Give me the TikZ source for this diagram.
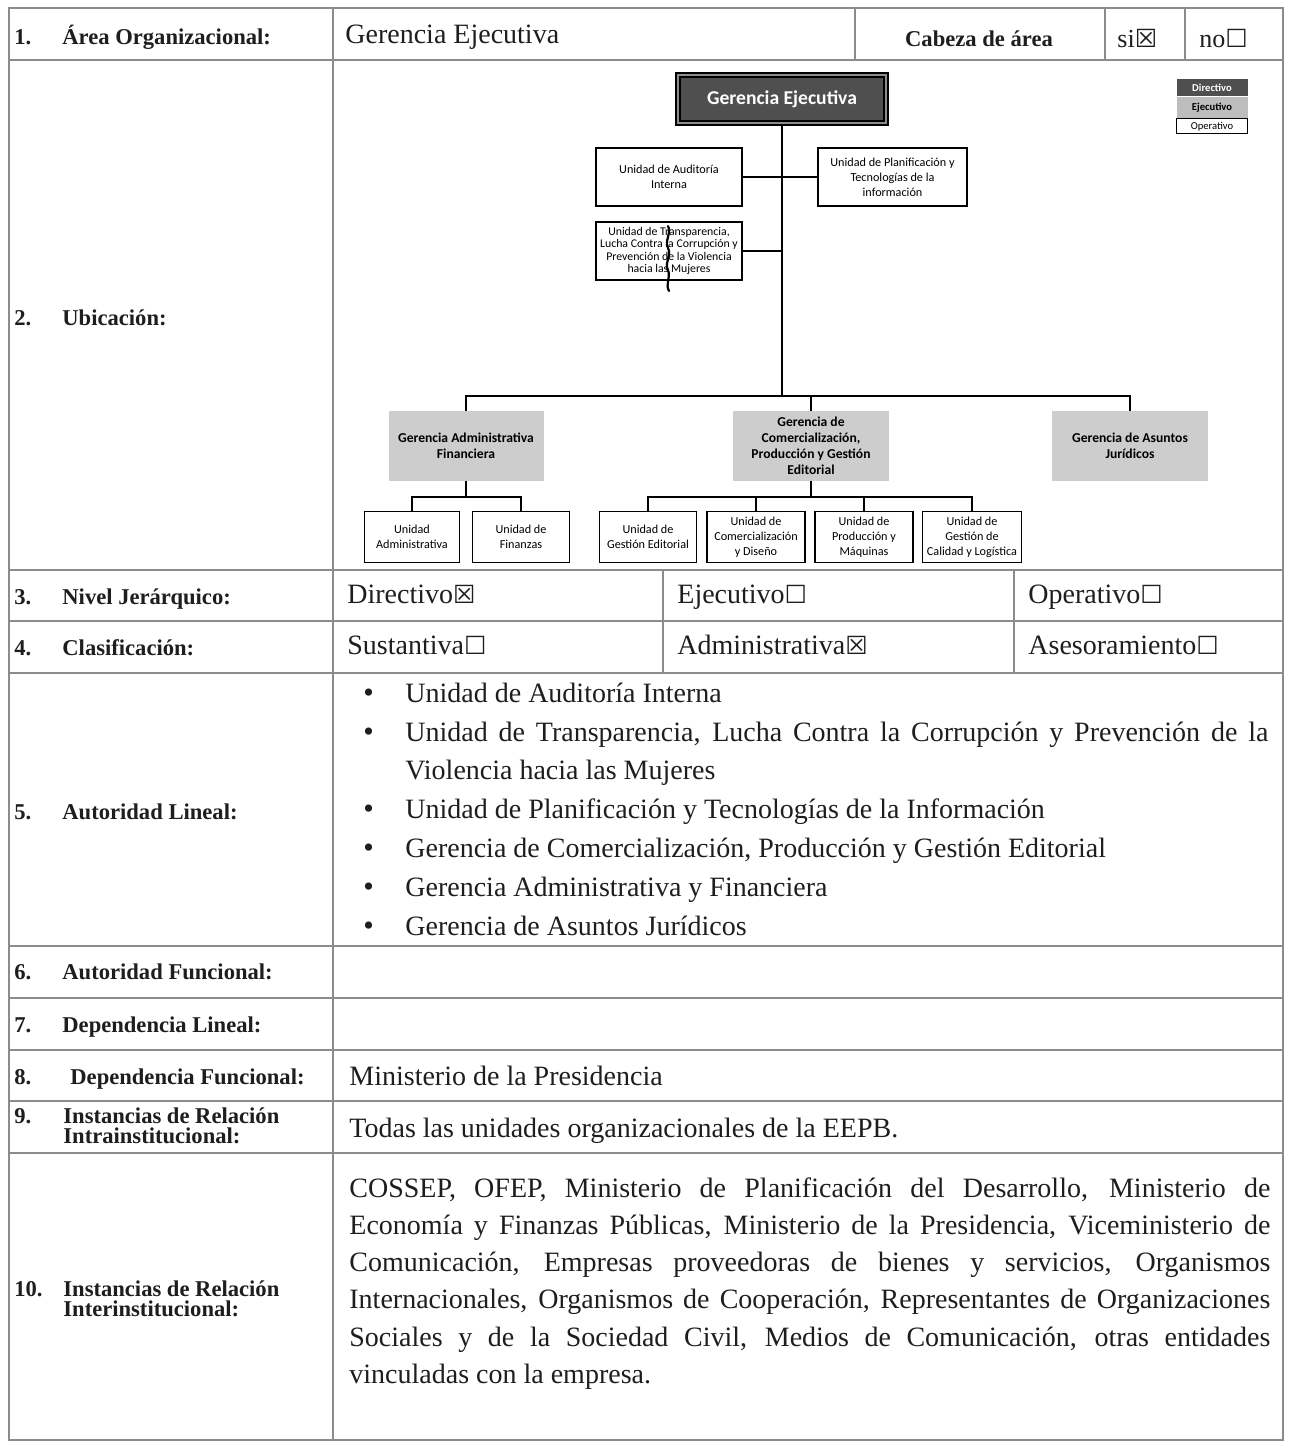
\documentclass[tikz,border=0pt]{standalone}
\usepackage{fontspec}
\setmainfont{Liberation Serif}
\newfontfamily\orgfont{Carlito}
\newfontfamily\glyphfont{DejaVu Sans}
\newcommand\boxyes{{\glyphfont\fontsize{12.5}{12.5}\selectfont\char"2612}}
\newcommand\boxno{{\glyphfont\fontsize{12.5}{12.5}\selectfont\char"2610}}
\hyphenpenalty=10000
\exhyphenpenalty=10000
\definecolor{inkc}{HTML}{1E1E1E}
\definecolor{rulec}{HTML}{8C8C8C}
\definecolor{topgray}{HTML}{4F4F4F}
\definecolor{mgrgray}{HTML}{CDCDCD}
\definecolor{leggray}{HTML}{BDBDBD}
\begin{document}
\begin{tikzpicture}[x=0.5pt,y=-0.5pt,
  gridline/.style={draw=rulec, line width=0.6pt},
  num/.style={anchor=base west, inner sep=0pt, text=inkc, font=\fontsize{11.3}{10}\selectfont\bfseries},
  lbl/.style={num, align=left},
  val/.style={anchor=base west, inner sep=0pt, text=inkc, font=\fontsize{14}{18.65}\selectfont},
  bullet/.style={anchor=base west, inner sep=0pt, text=inkc, font=\fontsize{15}{18}\selectfont},
  item/.style={val, text width=431.5pt, align=justify, font=\fontsize{14}{19.35}\selectfont},
  unitbox/.style={draw=black, line width=0.75pt, fill=white, align=center, inner sep=0.5pt,
    font=\orgfont\fontsize{6.1}{7.5}\selectfont},
  mgrbox/.style={fill=mgrgray, align=center, inner sep=1pt,
    font=\orgfont\bfseries\fontsize{6.8}{8}\selectfont},
  legbox/.style={minimum width=35.5pt, inner sep=0pt, align=center,
    font=\orgfont\fontsize{5.3}{5.3}\selectfont},
  link/.style={draw=black, line width=0.75pt}]

\useasboundingbox (0,0) rectangle (1290,1442);
\fill[white] (0,0) rectangle (1290,1442);

% ---------- table grid ----------
\draw[gridline] (9,8) rectangle (1283,1440);
\draw[gridline] (333,8) -- (333,1440);
\foreach \yy in {60,570,621,673,946,998,1050,1101,1153}
  \draw[gridline] (9,\yy) -- (1283,\yy);
\foreach \xx in {855,1105,1185}
  \draw[gridline] (\xx,8) -- (\xx,60);
\foreach \xx in {663,1014}
  \draw[gridline] (\xx,570) -- (\xx,673);

% ---------- row 1 ----------
\node[num] (n1) at (14,44) {1.};
\node[num] (l1) at (62,44) {Área Organizacional:};
\node[val] (v1) at (345,43) {Gerencia Ejecutiva};
\node[num, anchor=base] (head) at (979,46) {Cabeza de área};
\node[val, font=\fontsize{13}{13}\selectfont] (si) at (1117,47) {si\boxyes};
\node[val, font=\fontsize{13}{13}\selectfont] (no) at (1199,47) {no\boxno};

% ---------- row 2 ----------
\node[num] (n2) at (14,325) {2.};
\node[num] (l2) at (62,325) {Ubicación:};

% ---------- rows 3 and 4 ----------
\node[num] (n3) at (14,604) {3.};
\node[num] (l3) at (62,604) {Nivel Jerárquico:};
\node[val] (v3a) at (347,603) {Directivo\boxyes};
\node[val] (v3b) at (677,603) {Ejecutivo\boxno};
\node[val] (v3c) at (1028,603) {Operativo\boxno};
\node[num] (n4) at (14,655) {4.};
\node[num] (l4) at (62,655) {Clasificación:};
\node[val] (v4a) at (347,654) {Sustantiva\boxno};
\node[val] (v4b) at (677,654) {Administrativa\boxyes};
\node[val] (v4c) at (1028,654) {Asesoramiento\boxno};

% ---------- row 5 ----------
\node[num] (n5) at (14,819) {5.};
\node[num] (l5) at (62,819) {Autoridad Lineal:};
\foreach \yy/\nm in {702/b1,741/b2,818/b3,857/b4,896/b5,935/b6}
  \node[bullet] (\nm) at (363,\yy) {•};
\node[item] (i1) at (405,702) {Unidad de Auditoría Interna};
\node[item] (i2) at (405,741) {Unidad de Transparencia, Lucha Contra la Corrupción y Prevención de la\linebreak Violencia hacia las Mujeres};
\node[item] (i3) at (405,818) {Unidad de Planificación y Tecnologías de la Información};
\node[item] (i4) at (405,857) {Gerencia de Comercialización, Producción y Gestión Editorial};
\node[item] (i5) at (405,896) {Gerencia Administrativa y Financiera};
\node[item] (i6) at (405,935) {Gerencia de Asuntos Jurídicos};

% ---------- rows 6 to 9 ----------
\node[num] (n6) at (14,979) {6.};
\node[num] (l6) at (62,979) {Autoridad Funcional:};
\node[num] (n7) at (14,1032) {7.};
\node[num] (l7) at (62,1032) {Dependencia Lineal:};
\node[num] (n8) at (14,1084) {8.};
\node[num] (l8) at (70,1084) {Dependencia Funcional:};
\node[val] (v8) at (349,1085) {Ministerio de la Presidencia};
\node[num] (n9) at (14,1123) {9.};
% base of a multi-line label sits on its last line
\node[lbl] (l9) at (63,1143) {Instancias de Relación\\Intrainstitucional:};
\node[val] (v9) at (349,1137) {Todas las unidades organizacionales de la EEPB.};

% ---------- row 10 ----------
\node[num] (n10) at (14,1296) {10.};
\node[lbl] (l10) at (63,1316) {Instancias de Relación\\Interinstitucional:};
\node[val, text width=460.5pt, align=justify] (v10) at (349,1197)
  {COSSEP, OFEP, Ministerio de Planificación del Desarrollo, Ministerio de\linebreak
   Economía y Finanzas Públicas, Ministerio de la Presidencia, Viceministerio de\linebreak
   Comunicación, Empresas proveedoras de bienes y servicios, Organismos\linebreak
   Internacionales, Organismos de Cooperación, Representantes de Organizaciones\linebreak
   Sociales y de la Sociedad Civil, Medios de Comunicación, otras entidades\linebreak
   vinculadas con la empresa.};

% ---------- organisation chart ----------
\node[draw=black, line width=0.9pt, double=black!45, double distance=0.9pt,
      fill=topgray, minimum width=104pt, minimum height=24pt, inner sep=0pt,
      text=white, font=\orgfont\bfseries\fontsize{9.8}{11}\selectfont] (ge) at (782,99) {Gerencia Ejecutiva};

\node[unitbox, minimum width=73pt, minimum height=29pt] (aud) at (669,177) {Unidad de Auditoría\\Interna};
\node[unitbox, minimum width=74.5pt, minimum height=29pt] (plan) at (892.5,177) {Unidad de Planificación y\\Tecnologías de la\\información};
\node[unitbox, minimum width=73pt, minimum height=29pt, inner sep=0pt,
      font=\orgfont\fontsize{5.9}{6.3}\selectfont] (tra) at (669,251)
  {Unidad de Transparencia,\\Lucha Contra la Corrupción y\\Prevención de la Violencia\\hacia las Mujeres};

\node[mgrbox, minimum width=77.5pt, minimum height=35pt] (gaf) at (466,446) {Gerencia Administrativa\\Financiera};
\node[mgrbox, minimum width=78pt, minimum height=35pt] (gcp) at (811,446) {Gerencia de\\Comercialización,\\Producción y Gestión\\Editorial};
\node[mgrbox, minimum width=78pt, minimum height=35pt] (gaj) at (1130,446) {Gerencia de Asuntos\\Jurídicos};

\node[unitbox, minimum width=47.5pt, minimum height=25.5pt] (ua) at (412,537) {Unidad\\Administrativa};
\node[unitbox, minimum width=48.5pt, minimum height=25.5pt] (uf) at (521,537) {Unidad de\\Finanzas};
\node[unitbox, minimum width=48.5pt, minimum height=25.5pt] (uge) at (648,537) {Unidad de\\Gestión Editorial};
\node[unitbox, minimum width=49pt, minimum height=25.5pt] (ucd) at (756,537) {Unidad de\\Comercialización\\y Diseño};
\node[unitbox, minimum width=49pt, minimum height=25.5pt] (upm) at (864,537) {Unidad de\\Producción y\\Máquinas};
\node[unitbox, minimum width=49.5pt, minimum height=25.5pt] (ugc) at (972,537) {Unidad de\\Gestión de\\Calidad y Logística};

% junction points of the chart
\coordinate (hub) at (782,396);
\coordinate (gafbus) at (466,497);
\coordinate (gcpbus) at (811,497);

\draw[link] (ge.south) -- (hub);
\draw[link] (aud.east) -- (plan.west);
\draw[link] (tra.east) -- (tra.east -| ge.south);
\draw[link] (gaf.north) |- (hub);
\draw[link] (gaj.north) |- (hub);
\draw[link] (gcp.north) -- (gcp.north |- hub);

\draw[link] (gaf.south) -- (gafbus);
\draw[link] (ua.north) |- (gafbus);
\draw[link] (uf.north) |- (gafbus);

\draw[link] (gcp.south) -- (gcpbus);
\draw[link] (uge.north) |- (gcpbus);
\draw[link] (ugc.north) |- (gcpbus);
\draw[link] (ucd.north) -- (ucd.north |- gcpbus);
\draw[link] (upm.north) -- (upm.north |- gcpbus);

% stray pen stroke across the transparency box
\draw[black, line width=1.1pt, line cap=round]
  (668,226) .. controls (672,234) and (664,240) .. (668,248)
  .. controls (672,256) and (664,262) .. (668,270)
  .. controls (671,278) and (665,284) .. (669,291);

% level legend
\node[legbox, fill=topgray, text=white, minimum height=8.5pt, font=\orgfont\bfseries\fontsize{5.3}{5.3}\selectfont] (legd) at (1212,87.5) {Directivo};
\node[legbox, fill=leggray, text=black, minimum height=10.5pt, font=\orgfont\bfseries\fontsize{5.3}{5.3}\selectfont, anchor=north] (lege) at (legd.south) {Ejecutivo};
\node[legbox, draw=black, line width=0.6pt, fill=white, minimum height=7.5pt, anchor=north] (lego) at (lege.south) {Operativo};

\end{tikzpicture}
\end{document}
